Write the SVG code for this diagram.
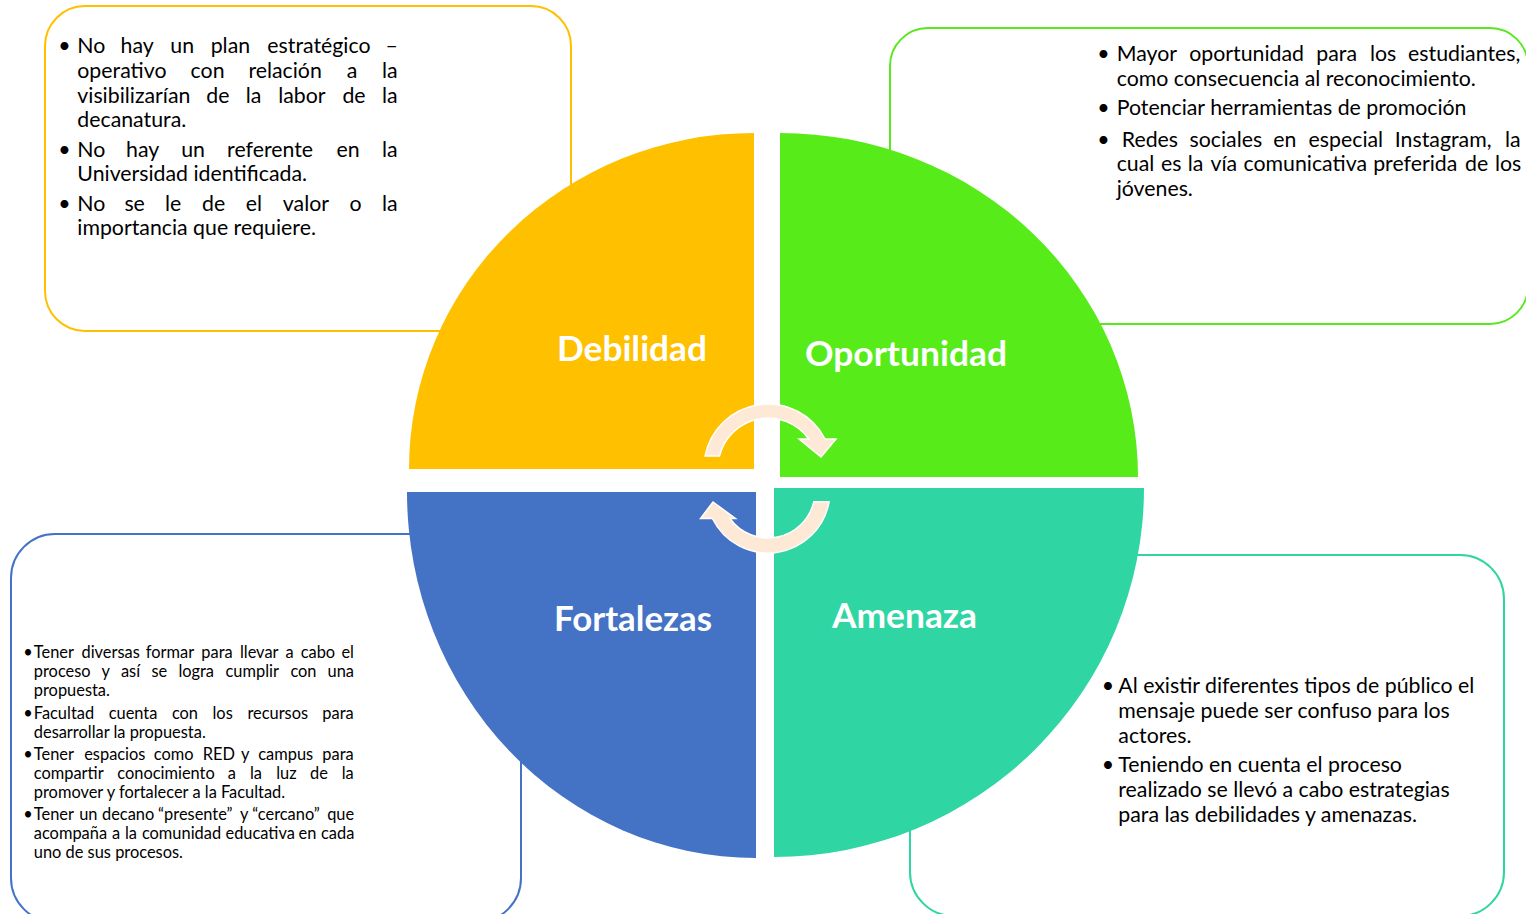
<svg xmlns="http://www.w3.org/2000/svg" width="1526" height="914" viewBox="0 0 1526 914">
<style>
.box{fill:#fff;stroke-width:2}
.t{font-family:Lato,"Liberation Sans",sans-serif;font-size:21.3px;fill:#000}
.s{font-family:Lato,"Liberation Sans",sans-serif;font-size:16.4px;fill:#000}
.lbl{font-family:Lato,"Liberation Sans",sans-serif;font-size:33.5px;font-weight:700;fill:#fff}
.arr{fill:#FDE9D5;stroke:#fff;stroke-width:1.5}
</style>
<rect width="1526" height="914" fill="#fff"/>
<g id="box-debilidad">
<rect class="box" x="45" y="6" width="526" height="325" rx="40" stroke="#FFC000"/>
<text class="t" x="64.5" y="52.7" text-anchor="middle">•</text>
<text class="t" x="64.5" y="156.5" text-anchor="middle">•</text>
<text class="t" x="64.5" y="210.5" text-anchor="middle">•</text>
<text class="t" y="52.7"><tspan x="77.3">No </tspan><tspan x="120.6">hay </tspan><tspan x="170.3">un </tspan><tspan x="210.7">plan </tspan><tspan x="267.3">estratégico </tspan><tspan x="385.5">–</tspan></text>
<text class="t" y="77.6"><tspan x="77.3">operativo </tspan><tspan x="190.6">con </tspan><tspan x="248.4">relación </tspan><tspan x="346.7">a </tspan><tspan x="382">la</tspan></text>
<text class="t" y="102.5"><tspan x="77.3">visibilizarían </tspan><tspan x="206.3">de </tspan><tspan x="245.8">la </tspan><tspan x="278.2">labor </tspan><tspan x="342.4">de </tspan><tspan x="381.9">la</tspan></text>
<text class="t" x="77.3" y="127.4">decanatura.</text>
<text class="t" y="156.5"><tspan x="77.3">No </tspan><tspan x="126">hay </tspan><tspan x="181.2">un </tspan><tspan x="227.1">referente </tspan><tspan x="336.6">en </tspan><tspan x="382">la</tspan></text>
<text class="t" x="77.3" y="181.4">Universidad identificada.</text>
<text class="t" y="210.5"><tspan x="77.3">No </tspan><tspan x="124.4">se </tspan><tspan x="165.1">le </tspan><tspan x="202.1">de </tspan><tspan x="245.8">el </tspan><tspan x="282.8">valor </tspan><tspan x="349.5">o </tspan><tspan x="381.9">la</tspan></text>
<text class="t" x="77.3" y="235.4">importancia que requiere.</text>
</g>
<g id="box-oportunidad">
<rect class="box" x="890" y="28" width="638" height="296" rx="38" stroke="#59E81E"/>
<text class="t" x="1103.5" y="61" text-anchor="middle">•</text>
<text class="t" x="1103.5" y="115.3" text-anchor="middle">•</text>
<text class="t" x="1103.5" y="146.5" text-anchor="middle">•</text>
<text class="t" y="61"><tspan x="1116.7">Mayor </tspan><tspan x="1189.2">oportunidad </tspan><tspan x="1316.3">para </tspan><tspan x="1370">los </tspan><tspan x="1408.1">estudiantes,</tspan></text>
<text class="t" x="1116.7" y="85.5">como consecuencia al reconocimiento.</text>
<text class="t" x="1116.7" y="115.3">Potenciar herramientas de promoción</text>
<text class="t" y="146.5"><tspan x="1121.8">Redes </tspan><tspan x="1189.5">sociales </tspan><tspan x="1273.3">en </tspan><tspan x="1308.6">especial </tspan><tspan x="1394.8">Instagram, </tspan><tspan x="1505">la</tspan></text>
<text class="t" y="171.4"><tspan x="1116.7">cual </tspan><tspan x="1160.9">es </tspan><tspan x="1187.8">la </tspan><tspan x="1210.5">vía </tspan><tspan x="1243.5">comunicativa </tspan><tspan x="1373.2">preferida </tspan><tspan x="1465.1">de </tspan><tspan x="1495">los</tspan></text>
<text class="t" x="1116.7" y="196.3">jóvenes.</text>
</g>
<g id="box-fortalezas">
<rect class="box" x="11" y="534" width="510" height="388" rx="44" stroke="#4472C4"/>
<text class="s" x="28" y="658" text-anchor="middle">•</text>
<text class="s" x="28" y="719" text-anchor="middle">•</text>
<text class="s" x="28" y="760" text-anchor="middle">•</text>
<text class="s" x="28" y="820" text-anchor="middle">•</text>
<text class="s" y="658"><tspan x="33.8">Tener </tspan><tspan x="81.5">diversas </tspan><tspan x="145.8">formar </tspan><tspan x="201.3">para </tspan><tspan x="239.9">llevar </tspan><tspan x="285.5">a </tspan><tspan x="300.7">cabo </tspan><tspan x="341.4">el</tspan></text>
<text class="s" y="677"><tspan x="33.8">proceso </tspan><tspan x="101.5">y </tspan><tspan x="120.9">así </tspan><tspan x="151.4">se </tspan><tspan x="178.4">logra </tspan><tspan x="225.5">cumplir </tspan><tspan x="290.4">con </tspan><tspan x="327.5">una</tspan></text>
<text class="s" x="33.8" y="696">propuesta.</text>
<text class="s" y="719"><tspan x="33.8">Facultad </tspan><tspan x="108.7">cuenta </tspan><tspan x="171.9">con </tspan><tspan x="212.5">los </tspan><tspan x="247.4">recursos </tspan><tspan x="322.3">para</tspan></text>
<text class="s" x="33.8" y="738">desarrollar la propuesta.</text>
<text class="s" y="760"><tspan x="33.8">Tener </tspan><tspan x="84.2">espacios </tspan><tspan x="153.8">como </tspan><tspan x="202.8">RED </tspan><tspan x="240.9">y </tspan><tspan x="258.3">campus </tspan><tspan x="322.3">para</tspan></text>
<text class="s" y="779"><tspan x="33.8">compartir </tspan><tspan x="117.3">conocimiento </tspan><tspan x="227.7">a </tspan><tspan x="250">la </tspan><tspan x="276.2">luz </tspan><tspan x="310">de </tspan><tspan x="341.7">la</tspan></text>
<text class="s" x="33.8" y="798">promover y fortalecer a la Facultad.</text>
<text class="s" y="820"><tspan x="33.8">Tener </tspan><tspan x="79.2">un </tspan><tspan x="102">decano </tspan><tspan x="158.1">“presente” </tspan><tspan x="239.9">y </tspan><tspan x="252.3">“cercano” </tspan><tspan x="327.2">que</tspan></text>
<text class="s" y="839"><tspan x="33.8">acompaña </tspan><tspan x="111.9">a </tspan><tspan x="124.9">la </tspan><tspan x="141.9">comunidad </tspan><tspan x="225.5">educativa </tspan><tspan x="298.6">en </tspan><tspan x="321">cada</tspan></text>
<text class="s" x="33.8" y="858">uno de sus procesos.</text>
</g>
<g id="box-amenaza">
<rect class="box" x="910" y="555" width="594" height="361" rx="44" stroke="#2FD5A2"/>
<text class="t" x="1108" y="693" text-anchor="middle">•</text>
<text class="t" x="1108" y="772.3" text-anchor="middle">•</text>
<text class="t" x="1118.3" y="693">Al existir diferentes tipos de público el</text>
<text class="t" x="1118.3" y="718">mensaje puede ser confuso para los</text>
<text class="t" x="1118.3" y="743">actores.</text>
<text class="t" x="1118.3" y="772.3">Teniendo en cuenta el proceso</text>
<text class="t" x="1118.3" y="797.2">realizado se llevó a cabo estrategias</text>
<text class="t" x="1118.3" y="822.1">para las debilidades y amenazas.</text>
</g>
<g id="q-debilidad">
<path d="M754,469 L409,469 A345,336 0 0 1 754,133 Z" fill="#FFC000"/>
<text class="lbl" x="557" y="360.5" textLength="150" lengthAdjust="spacingAndGlyphs">Debilidad</text>
</g>
<g id="q-oportunidad">
<path d="M780,477 L780,133 A358,344 0 0 1 1138,477 Z" fill="#57EB19"/>
<text class="lbl" x="805" y="365.5" textLength="202" lengthAdjust="spacingAndGlyphs">Oportunidad</text>
</g>
<g id="q-amenaza">
<path d="M774,488 L1144,488 A370,369 0 0 1 774,857 Z" fill="#2FD6A3"/>
<text class="lbl" x="832" y="628" textLength="145" lengthAdjust="spacingAndGlyphs">Amenaza</text>
</g>
<g id="q-fortalezas">
<path d="M756,492 L756,858 A349,366 0 0 1 407,492 Z" fill="#4472C4"/>
<text class="lbl" x="554" y="631" textLength="158" lengthAdjust="spacingAndGlyphs">Fortalezas</text>
</g>
<g id="connectors">
<path class="arr" d="M705.1,456 A64,64 0 0 1 825,439 L836,439 L821,457 L799,439 L808.7,439 A50,50 0 0 0 719.5,456 Z"/>
<path class="arr" d="M829.1,501.7 A62,62 0 0 1 712.4,518.5 L700.5,518.5 L713,502 L735.5,518.5 L729.9,518.5 A47,47 0 0 0 813.8,501.7 Z"/>
</g>
</svg>
